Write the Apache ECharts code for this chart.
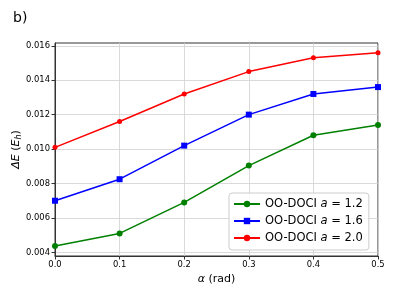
<!DOCTYPE html>
<html><head><meta charset="utf-8">
<script src="https://cdn.jsdelivr.net/npm/echarts@6/dist/echarts.min.js"></script>
<style>html,body{margin:0;padding:0;background:#fff}#c{width:394px;height:296px}</style>
</head><body><div id="c"></div>
<script>
const alphas = [0.0, 0.1, 0.2, 0.3, 0.4, 0.5];
const a12 = [0.00437, 0.0051, 0.0069, 0.00904, 0.0108, 0.0114];
const a16 = [0.0070, 0.00825, 0.0102, 0.0120, 0.0132, 0.0136];
const a20 = [0.0101, 0.0116, 0.0132, 0.0145, 0.0153, 0.0156];
const yTicks = [0.004, 0.006, 0.008, 0.010, 0.012, 0.014, 0.016];
const xTicks = [0.0, 0.1, 0.2, 0.3, 0.4, 0.5];
const names = ['1.2', '1.6', '2.0'];

const F = 'DejaVu Sans';
const chart = echarts.init(document.getElementById('c'));
function pts(ys){ return alphas.map((x,i)=>[x, ys[i]]); }
const mk = (name, data, color, symbol, size) => ({
  name: 'OO-DOCI a = ' + name, type: 'line', data: pts(data),
  symbol, symbolSize: size, showSymbol: true,
  lineStyle: {color, width: 1.5}, itemStyle: {color},
  z: 3
});
chart.setOption({
  animation: false,
  textStyle: {fontFamily: F},
  grid: {left: 55, right: 16, top: 43, bottom: 40, show: true, borderColor: '#333', borderWidth: 1, outerBoundsMode: 'none', containLabel: false},
  title: {text: 'b)', left: 8, top: 6, textStyle: {fontFamily: F, fontSize: 14, fontWeight: 'normal', color: '#000'}},
  xAxis: {
    type: 'value', min: 0, max: 0.5, interval: 0.1,
    name: '{i|α} (rad)', nameLocation: 'middle', nameGap: 18, nameMoveOverlap: false,
    nameTextStyle: {fontFamily: F, fontSize: 11, color: '#000', rich: {i: {fontStyle: 'italic', fontFamily: F, fontSize: 11}}},
    axisLine: {show: true, lineStyle: {color: '#333'}},
    axisTick: {show: true, length: 3.5, lineStyle: {color: '#333'}},
    axisLabel: {fontSize: 8.4, color: '#000', margin: 5, formatter: v => v.toFixed(1)},
    splitLine: {show: true, lineStyle: {color: '#d0d0d0', width: 0.8}}
  },
  yAxis: {
    type: 'value', min: 0.00379, max: 0.01616,
    name: '{i|ΔE} ({i|E}{s|h})', nameLocation: 'middle', nameGap: 32,
    nameMoveOverlap: false,
    nameTextStyle: {fontFamily: F, fontSize: 11, color: '#000', rich: {i: {fontStyle: 'italic', fontFamily: F, fontSize: 11}, s: {fontStyle: 'italic', fontFamily: F, fontSize: 8, padding: [6,0,0,0]}}},
    axisLine: {show: true, lineStyle: {color: '#333'}},
    axisTick: {show: true, length: 3.5, customValues: yTicks, lineStyle: {color: '#333'}},
    axisLabel: {fontSize: 8.4, color: '#000', margin: 5, customValues: yTicks, formatter: v => v.toFixed(3)},
    splitLine: {show: true, lineStyle: {color: '#d0d0d0', width: 0.8}}
  },
  legend: {
    orient: 'vertical', left: 229, top: 193,
    backgroundColor: 'rgba(255,255,255,0.85)', borderColor: '#ccc', borderWidth: 1, borderRadius: 3,
    padding: [5, 6, 6, 4], itemGap: 5, itemWidth: 26, itemHeight: 8,
    textStyle: {fontFamily: F, fontSize: 11.5, color: '#000', rich: {i: {fontStyle: 'italic', fontFamily: F, fontSize: 11.5}}},
    formatter: n => n.replace(' a = ', ' {i|a} = ')
  },
  series: [
    mk(names[0], a12, '#008000', 'circle', 6),
    mk(names[1], a16, '#0000ff', 'rect', 6),
    mk(names[2], a20, '#ff0000', 'circle', 5)
  ]
});
</script></body></html>
